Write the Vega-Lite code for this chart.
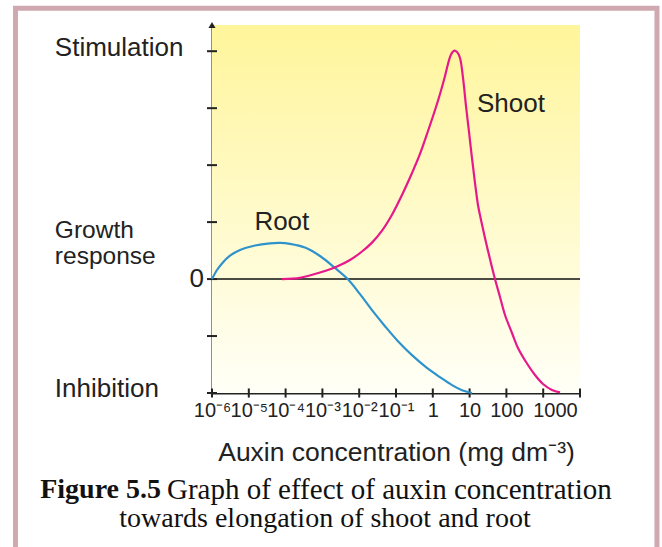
{
  "$schema": "https://vega.github.io/schema/vega-lite/v6.json",
  "width": 368,
  "height": 368,
  "autosize": {"type": "none"},
  "padding": {"left": 212, "top": 25, "right": 82, "bottom": 154},
  "background": "white",
  "config": {"view": {"stroke": null}, "font": "Liberation Sans"},
  "datasets": {
    "curves": [
      {"organ": "Root", "conc": 1e-6, "response": 0},
      {"organ": "Root", "conc": 1.368e-6, "response": 0.159},
      {"organ": "Root", "conc": 1.871e-6, "response": 0.275},
      {"organ": "Root", "conc": 3.083e-6, "response": 0.41},
      {"organ": "Root", "conc": 5.768e-6, "response": 0.51},
      {"organ": "Root", "conc": 1.472e-5, "response": 0.59},
      {"organ": "Root", "conc": 3.767e-5, "response": 0.628},
      {"organ": "Root", "conc": 7.047e-5, "response": 0.635},
      {"organ": "Root", "conc": 1.318e-4, "response": 0.618},
      {"organ": "Root", "conc": 3.365e-4, "response": 0.553},
      {"organ": "Root", "conc": 8.61e-4, "response": 0.405},
      {"organ": "Root", "conc": 2.198e-3, "response": 0.195},
      {"organ": "Root", "conc": 4.864e-3, "response": 0},
      {"organ": "Root", "conc": 0.01052, "response": -0.265},
      {"organ": "Root", "conc": 0.02228, "response": -0.546},
      {"organ": "Root", "conc": 0.05023, "response": -0.827},
      {"organ": "Root", "conc": 0.1132, "response": -1.09},
      {"organ": "Root", "conc": 0.2723, "response": -1.336},
      {"organ": "Root", "conc": 0.6531, "response": -1.546},
      {"organ": "Root", "conc": 1.57, "response": -1.722},
      {"organ": "Root", "conc": 3.327, "response": -1.862},
      {"organ": "Root", "conc": 6.209, "response": -1.95},
      {"organ": "Root", "conc": 11.61, "response": -2},
      {"organ": "Shoot", "conc": 7.98e-5, "response": 0},
      {"organ": "Shoot", "conc": 2.46e-4, "response": 0.022},
      {"organ": "Shoot", "conc": 8.61e-4, "response": 0.115},
      {"organ": "Shoot", "conc": 2.495e-3, "response": 0.221},
      {"organ": "Shoot", "conc": 5.62e-3, "response": 0.335},
      {"organ": "Shoot", "conc": 0.01191, "response": 0.484},
      {"organ": "Shoot", "conc": 0.02228, "response": 0.64},
      {"organ": "Shoot", "conc": 0.04169, "response": 0.85},
      {"organ": "Shoot", "conc": 0.0778, "response": 1.13},
      {"organ": "Shoot", "conc": 0.1455, "response": 1.476},
      {"organ": "Shoot", "conc": 0.2723, "response": 1.862},
      {"organ": "Shoot", "conc": 0.4487, "response": 2.196},
      {"organ": "Shoot", "conc": 0.7413, "response": 2.599},
      {"organ": "Shoot", "conc": 1.222, "response": 3.021},
      {"organ": "Shoot", "conc": 1.57, "response": 3.249},
      {"organ": "Shoot", "conc": 2.148, "response": 3.565},
      {"organ": "Shoot", "conc": 2.588, "response": 3.776},
      {"organ": "Shoot", "conc": 3.126, "response": 3.942},
      {"organ": "Shoot", "conc": 3.767, "response": 4.009},
      {"organ": "Shoot", "conc": 4.55, "response": 3.986},
      {"organ": "Shoot", "conc": 5.483, "response": 3.881},
      {"organ": "Shoot", "conc": 6.622, "response": 3.53},
      {"organ": "Shoot", "conc": 7.98, "response": 3.038},
      {"organ": "Shoot", "conc": 9.638, "response": 2.582},
      {"organ": "Shoot", "conc": 11.61, "response": 2.125},
      {"organ": "Shoot", "conc": 14.03, "response": 1.686},
      {"organ": "Shoot", "conc": 16.9, "response": 1.3},
      {"organ": "Shoot", "conc": 20.42, "response": 1.037},
      {"organ": "Shoot", "conc": 26.18, "response": 0.721},
      {"organ": "Shoot", "conc": 35.81, "response": 0.352},
      {"organ": "Shoot", "conc": 48.98, "response": 0},
      {"organ": "Shoot", "conc": 66.99, "response": -0.315},
      {"organ": "Shoot", "conc": 91.62, "response": -0.631},
      {"organ": "Shoot", "conc": 141.9, "response": -0.947},
      {"organ": "Shoot", "conc": 206.5, "response": -1.21},
      {"organ": "Shoot", "conc": 341.2, "response": -1.456},
      {"organ": "Shoot", "conc": 598.4, "response": -1.684},
      {"organ": "Shoot", "conc": 988.5, "response": -1.842},
      {"organ": "Shoot", "conc": 1734, "response": -1.947},
      {"organ": "Shoot", "conc": 2864, "response": -1.99}
    ],
    "xticks": [
      {"conc": 1e-6}, {"conc": 1e-5}, {"conc": 1e-4}, {"conc": 1e-3}, {"conc": 1e-2},
      {"conc": 0.1}, {"conc": 1}, {"conc": 10}, {"conc": 100}, {"conc": 1000}, {"conc": 10000}
    ],
    "yticks": [
      {"response": -2}, {"response": -1}, {"response": 0}, {"response": 1},
      {"response": 2}, {"response": 3}, {"response": 4}
    ]
  },
  "layer": [
    {
      "data": {"values": [{}]},
      "mark": {
        "type": "rect",
        "fill": {
          "gradient": "linear", "x1": 0, "y1": 0, "x2": 0, "y2": 1,
          "stops": [{"offset": 0, "color": "#fff59b"}, {"offset": 1, "color": "#fffff7"}]
        }
      },
      "encoding": {
        "x": {
          "datum": 1e-6, "type": "quantitative",
          "scale": {"type": "log", "domain": [1e-6, 10000], "nice": false},
          "axis": {
            "values": [1e-6, 1e-5, 1e-4, 1e-3, 1e-2, 0.1, 1, 10, 100, 2090],
            "labelExpr": "['10⁻⁶','10⁻⁵','10⁻⁴','10⁻³','10⁻²','10⁻¹','1','10','100','1000'][round(log(datum.value)/LN10)+6]",
            "ticks": false, "grid": false,
            "domainColor": "#222", "domainWidth": 2,
            "labelFontSize": 20, "labelColor": "#222", "labelPadding": 7,
            "labelOverlap": false, "labelFlush": false, "labelBound": false,
            "title": "Auxin concentration (mg dm⁻³)",
            "titleFontSize": 26.5, "titleFontWeight": "normal", "titleColor": "#222",
            "titleBaseline": "alphabetic", "titleY": 67
          }
        },
        "x2": {"datum": 10000},
        "y": {
          "datum": 4.46, "type": "quantitative",
          "scale": {"domain": [-2, 4.46], "nice": false, "zero": false},
          "axis": {"ticks": false, "labels": false, "grid": false, "title": null, "domainColor": "#222", "domainWidth": 2}
        },
        "y2": {"datum": -2}
      }
    },
    {
      "data": {"values": [{}]},
      "mark": {"type": "rule", "color": "#111", "strokeWidth": 1.6},
      "encoding": {"y": {"datum": 0}}
    },
    {
      "data": {"name": "xticks"},
      "mark": {"type": "rule", "color": "#222", "strokeWidth": 2},
      "encoding": {
        "x": {"field": "conc", "type": "quantitative"},
        "y": {"datum": -2.08},
        "y2": {"datum": -1.92}
      }
    },
    {
      "data": {"name": "yticks"},
      "mark": {"type": "rule", "color": "#222", "strokeWidth": 2},
      "encoding": {
        "y": {"field": "response", "type": "quantitative"},
        "x": {"datum": 7.31e-7},
        "x2": {"datum": 1.368e-6}
      }
    },
    {
      "data": {"name": "curves"},
      "mark": {"type": "line", "interpolate": "catmull-rom", "strokeWidth": 2.2},
      "encoding": {
        "x": {"field": "conc", "type": "quantitative"},
        "y": {"field": "response", "type": "quantitative"},
        "color": {
          "field": "organ", "type": "nominal",
          "scale": {"domain": ["Root", "Shoot"], "range": ["#2e93cc", "#e6198b"]},
          "legend": null
        }
      }
    },
    {
      "data": {"values": [{}]},
      "mark": {"type": "point", "shape": "triangle-up", "filled": true, "color": "#222", "size": 50, "opacity": 1},
      "encoding": {"x": {"datum": 1e-6}, "y": {"datum": 4.46}}
    },
    {
      "data": {"values": [{}]},
      "mark": {"type": "text", "text": "Stimulation", "align": "left", "baseline": "middle", "fontSize": 26, "color": "#222"},
      "encoding": {"x": {"datum": 5.37e-11}, "y": {"datum": 4.056}}
    },
    {
      "data": {"values": [{}]},
      "mark": {"type": "text", "text": ["Growth", "response"], "lineHeight": 26, "align": "left", "baseline": "middle", "fontSize": 24.5, "color": "#222"},
      "encoding": {"x": {"datum": 5.37e-11}, "y": {"datum": 0.844}}
    },
    {
      "data": {"values": [{}]},
      "mark": {"type": "text", "text": "Inhibition", "align": "left", "baseline": "middle", "fontSize": 26, "color": "#222"},
      "encoding": {"x": {"datum": 5.37e-11}, "y": {"datum": -1.93}}
    },
    {
      "data": {"values": [{}]},
      "mark": {"type": "text", "text": "0", "align": "right", "baseline": "middle", "fontSize": 26, "color": "#222"},
      "encoding": {"x": {"datum": 6.07e-7}, "y": {"datum": 0}}
    },
    {
      "data": {"values": [{}]},
      "mark": {"type": "text", "text": "Root", "align": "center", "baseline": "middle", "fontSize": 26, "color": "#222"},
      "encoding": {"x": {"datum": 7.9e-5}, "y": {"datum": 1.0}}
    },
    {
      "data": {"values": [{}]},
      "mark": {"type": "text", "text": "Shoot", "align": "center", "baseline": "middle", "fontSize": 26, "color": "#222"},
      "encoding": {"x": {"datum": 133}, "y": {"datum": 3.08}}
    },
    {
      "data": {"values": [{}]},
      "mark": {"type": "text", "text": "Figure 5.5", "align": "right", "baseline": "middle", "fontSize": 28, "font": "Liberation Serif", "fontWeight": "bold", "color": "#111"},
      "encoding": {"x": {"datum": 4.11e-8}, "y": {"datum": -3.708}}
    },
    {
      "data": {"values": [{}]},
      "mark": {"type": "text", "text": "Graph of effect of auxin concentration", "align": "left", "baseline": "middle", "fontSize": 29, "font": "Liberation Serif", "color": "#111"},
      "encoding": {"x": {"datum": 5.98e-8}, "y": {"datum": -3.708}}
    },
    {
      "data": {"values": [{}]},
      "mark": {"type": "text", "text": "towards elongation of shoot and root", "align": "center", "baseline": "middle", "fontSize": 28, "font": "Liberation Serif", "color": "#111"},
      "encoding": {"x": {"datum": 1.175e-3}, "y": {"datum": -4.218}}
    },
    {
      "data": {"values": [{}]},
      "mark": {"type": "rect", "filled": false, "stroke": "#cfa9af", "strokeWidth": 5},
      "encoding": {
        "x": {"datum": 4.57e-12}, "x2": {"datum": 1.236e6},
        "y": {"datum": 4.754}, "y2": {"datum": -4.94}
      }
    }
  ]
}
